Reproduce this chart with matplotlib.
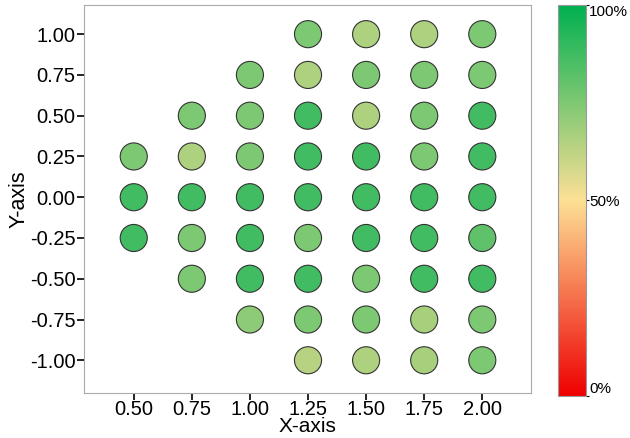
import matplotlib
matplotlib.use('Agg')
import matplotlib.pyplot as plt
from matplotlib.colors import LinearSegmentedColormap

# data: x position, y position, value (share, 0-1)
x = [0.50, 0.50, 0.50,
     0.75, 0.75, 0.75, 0.75, 0.75,
     1.00, 1.00, 1.00, 1.00, 1.00, 1.00, 1.00,
     1.25, 1.25, 1.25, 1.25, 1.25, 1.25, 1.25, 1.25, 1.25,
     1.50, 1.50, 1.50, 1.50, 1.50, 1.50, 1.50, 1.50, 1.50,
     1.75, 1.75, 1.75, 1.75, 1.75, 1.75, 1.75, 1.75, 1.75,
     2.00, 2.00, 2.00, 2.00, 2.00, 2.00, 2.00, 2.00, 2.00]
y = [0.25, 0.00, -0.25,
     0.50, 0.25, 0.00, -0.25, -0.50,
     0.75, 0.50, 0.25, 0.00, -0.25, -0.50, -0.75,
     1.00, 0.75, 0.50, 0.25, 0.00, -0.25, -0.50, -0.75, -1.00,
     1.00, 0.75, 0.50, 0.25, 0.00, -0.25, -0.50, -0.75, -1.00,
     1.00, 0.75, 0.50, 0.25, 0.00, -0.25, -0.50, -0.75, -1.00,
     1.00, 0.75, 0.50, 0.25, 0.00, -0.25, -0.50, -0.75, -1.00]
value = [0.75, 0.87, 0.87,
         0.75, 0.66, 0.87, 0.75, 0.75,
         0.75, 0.75, 0.75, 0.87, 0.87, 0.87, 0.72,
         0.75, 0.66, 0.87, 0.87, 0.87, 0.75, 0.87, 0.75, 0.64,
         0.66, 0.75, 0.66, 0.87, 0.87, 0.87, 0.75, 0.75, 0.66,
         0.66, 0.75, 0.75, 0.75, 0.87, 0.87, 0.87, 0.67, 0.67,
         0.75, 0.75, 0.87, 0.87, 0.87, 0.81, 0.87, 0.75, 0.75]

plt.rcParams['font.family'] = ['Liberation Sans', 'DejaVu Sans']

cmap = LinearSegmentedColormap.from_list('rg', ['#ee0000', '#fde095', '#00b050'])

fig = plt.figure(figsize=(6.3, 4.38), dpi=100)
ax = fig.add_axes([0.133, 0.103, 0.71, 0.886])
sc = ax.scatter(x, y, c=value, cmap=cmap, vmin=0, vmax=1, s=380,
                edgecolors='#333333', linewidths=0.8)
ax.set_xlim(0.285, 2.21)
ax.set_ylim(-1.2, 1.18)
ax.set_xticks([0.5, 0.75, 1.0, 1.25, 1.5, 1.75, 2.0])
ax.set_yticks([-1, -0.75, -0.5, -0.25, 0, 0.25, 0.5, 0.75, 1.0])
ax.xaxis.set_major_formatter(plt.FormatStrFormatter('%.2f'))
ax.yaxis.set_major_formatter(plt.FormatStrFormatter('%.2f'))
ax.tick_params(labelsize=14.5, length=5, width=1.2, color='black', pad=1)
ax.tick_params(axis='x', pad=0)
for s in ax.spines.values():
    s.set_color('#aaaaaa')
ax.set_xlabel('X-axis', fontsize=15, labelpad=-1)
ax.set_ylabel('Y-axis', fontsize=15.5, labelpad=0)

cax = fig.add_axes([0.886, 0.096, 0.044, 0.893])
cb = fig.colorbar(sc, cax=cax, ticks=[0, 0.5, 1])
cb.ax.set_yticklabels(['0%', '50%', '100%'])
cb.ax.tick_params(labelsize=11, length=2, pad=0.5)
labels = cb.ax.get_yticklabels()
labels[0].set_verticalalignment('bottom')
labels[2].set_verticalalignment('top')
cb.outline.set_edgecolor('#999999')

plt.savefig('out.png', dpi=100)
